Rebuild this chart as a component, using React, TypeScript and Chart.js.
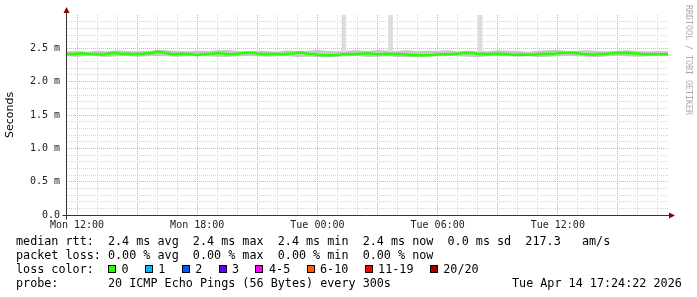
import React, { useEffect, useRef } from "react";
import { Chart, registerables } from "chart.js";

Chart.register(...registerables);

// ---------- data ----------
const START_HOUR = 11.5; // hours since Mon 00:00
const END_HOUR = 41.5;
const MEDIAN_STEP_HOURS = 0.25;
const SMOKE_STEP_HOURS = 0.5;

// median RTT in ms, one value every 15 minutes
const medianRtt = [
  2.415, 2.412, 2.418, 2.425, 2.418, 2.415, 2.41, 2.405, 2.418, 2.43,
  2.428, 2.415, 2.418, 2.412, 2.42, 2.415, 2.425, 2.43, 2.448, 2.445,
  2.425, 2.412, 2.415, 2.42, 2.415, 2.41, 2.398, 2.41, 2.415, 2.418,
  2.43, 2.422, 2.415, 2.412, 2.418, 2.425, 2.435, 2.432, 2.418, 2.415,
  2.41, 2.418, 2.415, 2.412, 2.418, 2.422, 2.435, 2.432, 2.418, 2.415,
  2.405, 2.398, 2.395, 2.398, 2.4, 2.412, 2.415, 2.41, 2.415, 2.42,
  2.425, 2.418, 2.412, 2.415, 2.42, 2.415, 2.41, 2.412, 2.405, 2.398,
  2.395, 2.395, 2.398, 2.4, 2.408, 2.41, 2.412, 2.415, 2.42, 2.43,
  2.432, 2.428, 2.415, 2.418, 2.412, 2.418, 2.42, 2.415, 2.41, 2.405,
  2.402, 2.408, 2.405, 2.402, 2.41, 2.415, 2.418, 2.415, 2.428, 2.435,
  2.432, 2.435, 2.425, 2.415, 2.412, 2.405, 2.41, 2.415, 2.418, 2.428,
  2.432, 2.43, 2.432, 2.425, 2.418, 2.412, 2.41, 2.412, 2.41, 2.412,
  2.41,
];

// smoke envelope (ms), one value every 30 minutes
const smokeHigh = [
  2.455, 2.46, 2.45, 2.465, 2.455, 2.47, 2.46, 2.455, 2.46, 2.475,
  2.47, 2.46, 2.455, 2.465, 2.46, 2.47, 2.475, 2.46, 2.455, 2.465,
  2.46, 2.45, 2.47, 2.46, 2.465, 2.475, 2.46, 2.455, 2.465, 2.47,
  2.46, 2.475, 2.465, 2.46, 2.47, 2.455, 2.465, 2.46, 2.47, 2.455,
  2.465, 2.46, 2.455, 2.47, 2.465, 2.46, 2.45, 2.465, 2.47, 2.475,
  2.46, 2.465, 2.47, 2.46, 2.455, 2.465, 2.47, 2.46, 2.455, 2.46,
  2.455,
];
const smokeLow = [
  2.38, 2.375, 2.385, 2.38, 2.37, 2.38, 2.385, 2.375, 2.38, 2.385,
  2.38, 2.375, 2.38, 2.385, 2.38, 2.375, 2.37, 2.38, 2.385, 2.38,
  2.375, 2.38, 2.385, 2.37, 2.375, 2.37, 2.365, 2.375, 2.38, 2.385,
  2.37, 2.375, 2.38, 2.37, 2.365, 2.37, 2.375, 2.38, 2.385, 2.38,
  2.375, 2.37, 2.38, 2.385, 2.38, 2.375, 2.38, 2.37, 2.375, 2.38,
  2.385, 2.38, 2.375, 2.37, 2.38, 2.385, 2.38, 2.375, 2.38, 2.385,
  2.38,
];

// single outlier pings shooting to the top
const spikeHours = [25.32, 27.65, 32.12];
const spikeLow = [2.45, 2.45, 2.45];
const spikeHigh = [3.2, 3.2, 3.2];

const xTickHours = [12, 18, 24, 30, 36];
const xTickLabels = ["Mon 12:00", "Mon 18:00", "Tue 00:00", "Tue 06:00", "Tue 12:00"];
const yTickTenths = [0, 5, 10, 15, 20, 25];
const yTickLabels = ["0.0", "0.5 m", "1.0 m", "1.5 m", "2.0 m", "2.5 m"];

const lossLabels = ["0", "1", "2", "3", "4-5", "6-10", "11-19", "20/20"];
const lossColors = ["#26ff00", "#00b8ff", "#0059ff", "#5e00ff", "#ff00ff", "#ff5e00", "#ff0000", "#a10000"];

const legendRtt = "median rtt:  2.4 ms avg  2.4 ms max  2.4 ms min  2.4 ms now  0.0 ms sd  217.3   am/s";
const legendLoss = "packet loss: 0.00 % avg  0.00 % max  0.00 % min  0.00 % now";
const legendLossColor = "loss color:";
const legendProbe = "probe:       20 ICMP Echo Pings (56 Bytes) every 300s";
const legendDate = "Tue Apr 14 17:24:22 2026";
const watermark = "RRDTOOL / TOBI OETIKER";

// ---------- styling ----------
const MONO = '"DejaVu Sans Mono", monospace';
const SANS = '"DejaVu Sans", sans-serif';
const GRID_MINOR = "#d8d8d8";
const GRID_MAJOR = "#e8acac";

const decorPlugin = {
  id: "smokepingDecor",
  afterDraw(chart: any) {
    const { ctx, chartArea: a } = chart;
    ctx.save();
    // axes
    const ax = Math.round(a.left) - 0.5;
    const ay = Math.round(a.bottom) + 0.5;
    ctx.strokeStyle = "#333";
    ctx.lineWidth = 1;
    ctx.setLineDash([]);
    ctx.beginPath();
    ctx.moveTo(ax, ay + 4);
    ctx.lineTo(ax, a.top - 3);
    ctx.moveTo(ax - 4, ay);
    ctx.lineTo(a.right + 2, ay);
    ctx.stroke();
    // arrows
    ctx.fillStyle = "#8b0000";
    ctx.beginPath();
    ctx.moveTo(ax, a.top - 8);
    ctx.lineTo(ax - 3, a.top - 2);
    ctx.lineTo(ax + 3, a.top - 2);
    ctx.closePath();
    ctx.fill();
    ctx.beginPath();
    ctx.moveTo(a.right + 7, ay);
    ctx.lineTo(a.right + 1, ay - 3);
    ctx.lineTo(a.right + 1, ay + 3);
    ctx.closePath();
    ctx.fill();

    // watermark
    ctx.save();
    ctx.translate(688, 5);
    ctx.rotate(Math.PI / 2);
    ctx.font = `8.3px ${MONO}`;
    ctx.fillStyle = "#aaaaaa";
    ctx.textBaseline = "middle";
    ctx.textAlign = "left";
    ctx.fillText(watermark, 0, 0);
    ctx.restore();

    // legend
    ctx.font = `11.75px ${MONO}`;
    ctx.fillStyle = "#000";
    ctx.textBaseline = "alphabetic";
    ctx.textAlign = "left";
    ctx.fillText(legendRtt, 16, 245);
    ctx.fillText(legendLoss, 16, 259);
    ctx.fillText(legendLossColor, 16, 273);
    let cursor = 108;
    lossLabels.forEach((lab, i) => {
      const bx = Math.round(cursor);
      ctx.fillStyle = lossColors[i];
      ctx.fillRect(bx, 265, 8, 8);
      ctx.strokeStyle = "#000";
      ctx.strokeRect(bx + 0.5, 265.5, 7, 7);
      ctx.fillStyle = "#000";
      const lx = cursor + 13.5;
      ctx.fillText(lab, lx, 273);
      cursor = lx + ctx.measureText(lab).width + 16.3;
    });
    ctx.fillText(legendProbe, 16, 287);
    ctx.fillText(legendDate, 512, 287);
    ctx.restore();
  },
};

export default function App() {
  const ref = useRef<HTMLCanvasElement | null>(null);

  useEffect(() => {
    document.body.style.margin = "0";
    const canvas = ref.current;
    if (!canvas) return;

    const medianPts = medianRtt.map((v, i) => ({ x: START_HOUR + i * MEDIAN_STEP_HOURS, y: v }));
    const hiPts = smokeHigh.map((v, i) => ({ x: START_HOUR + i * SMOKE_STEP_HOURS, y: v }));
    const loPts = smokeLow.map((v, i) => ({ x: START_HOUR + i * SMOKE_STEP_HOURS, y: v }));
    const spikePts = spikeHours.map((h, i) => ({ x: h, y: [spikeLow[i], spikeHigh[i]] }));

    const xTicks: number[] = [];
    for (let h = Math.ceil(START_HOUR); h <= Math.floor(END_HOUR); h++) xTicks.push(h);
    const yTicks: number[] = [];
    for (let k = 0; k < 30; k++) yTicks.push(k / 10);

    const chart = new Chart(canvas, {
      type: "line",
      data: {
        datasets: [
          {
            label: "median",
            data: medianPts,
            borderColor: "#26ff00",
            borderWidth: 2.5,
            pointRadius: 0,
            fill: false,
            order: 0,
          } as any,
          {
            type: "bar",
            label: "outliers",
            data: spikePts,
            backgroundColor: "#dcdcdc",
            borderWidth: 0,
            barThickness: 4,
            grouped: false,
            order: 1,
          } as any,
          {
            label: "smokeLow",
            data: loPts,
            borderWidth: 0,
            borderColor: "rgba(0,0,0,0)",
            pointRadius: 0,
            fill: false,
            order: 3,
          } as any,
          {
            label: "smokeHigh",
            data: hiPts,
            borderWidth: 0,
            borderColor: "rgba(0,0,0,0)",
            pointRadius: 0,
            backgroundColor: "#c6c6c6",
            fill: "-1",
            order: 2,
          } as any,
        ],
      },
      options: {
        animation: false,
        responsive: false,
        devicePixelRatio: 1,
        layout: { padding: { left: 0, top: 15, right: 29, bottom: 62 } },
        plugins: {
          legend: { display: false },
          tooltip: { enabled: false },
          filler: { propagate: false },
        },
        scales: {
          x: {
            type: "linear",
            min: START_HOUR,
            max: END_HOUR,
            offset: false,
            afterBuildTicks: (axis: any) => {
              axis.ticks = xTicks.map((v) => ({ value: v }));
            },
            afterFit: (axis: any) => {
              axis.height = 20;
            },
            grid: {
              offset: false,
              drawTicks: false,
              lineWidth: 1,
              color: (c: any) => {
                const v = c.tick ? Math.round(c.tick.value) : 0;
                return v % 3 === 0 ? GRID_MAJOR : GRID_MINOR;
              },
            },
            border: { display: false, dash: [1, 1] },
            ticks: {
              autoSkip: false,
              maxRotation: 0,
              minRotation: 0,
              padding: 4,
              color: "#222",
              font: { family: MONO, size: 10 },
              callback: (value: any) => {
                const idx = xTickHours.indexOf(Math.round(Number(value)));
                return idx >= 0 ? xTickLabels[idx] : "";
              },
            },
          },
          y: {
            type: "linear",
            min: 0,
            max: 3,
            afterBuildTicks: (axis: any) => {
              axis.ticks = yTicks.map((v) => ({ value: v }));
            },
            afterFit: (axis: any) => {
              axis.width = 67;
            },
            grid: {
              drawTicks: false,
              lineWidth: 1,
              color: (c: any) => {
                const k = c.tick ? Math.round(c.tick.value * 10) : 0;
                if (k === 0) return "rgba(0,0,0,0)";
                return k % 5 === 0 ? GRID_MAJOR : GRID_MINOR;
              },
            },
            border: { display: false, dash: [1, 1] },
            title: {
              display: true,
              text: "Seconds",
              color: "#000",
              font: { family: SANS, size: 11, lineHeight: 1.2 },
              padding: { top: 3.6, bottom: 0 },
            },
            ticks: {
              autoSkip: false,
              padding: 7,
              color: "#222",
              font: { family: MONO, size: 10 },
              callback: (value: any) => {
                const idx = yTickTenths.indexOf(Math.round(Number(value) * 10));
                return idx >= 0 ? yTickLabels[idx] : "";
              },
            },
          },
        },
      },
      plugins: [decorPlugin],
    });

    return () => chart.destroy();
  }, []);

  return (
    <div style={{ width: 697, height: 297, background: "#fff" }}>
      <canvas ref={ref} width={697} height={297} />
    </div>
  );
}
